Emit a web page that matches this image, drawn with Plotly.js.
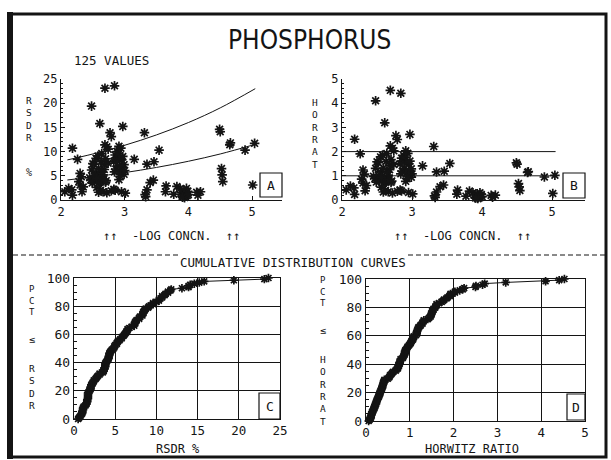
<!DOCTYPE html>
<html>
<head>
<meta charset="utf-8">
<script src="https://cdn.plot.ly/plotly-3.0.1.min.js"></script>
<style>
  html, body { margin: 0; padding: 0; background: #fff; }
  #chart { width: 611px; height: 460px; }
</style>
</head>
<body>
<div id="chart"></div>
<script>
// Collaborative-study results for phosphorus: 125 laboratory values.
// -log10 of the concentration (mass fraction)
const logConc = [
  2.06, 2.12, 2.17, 2.18, 2.18, 2.26, 2.30, 2.32, 2.30, 2.33, 2.35, 2.28,
  2.48, 2.61, 2.69, 2.84, 2.77, 2.79, 2.97, 2.69, 2.72, 2.64, 2.74,
  2.50, 2.52, 2.55, 2.58, 2.48, 2.55, 2.58, 2.60, 2.62, 2.63, 2.65, 2.66, 2.68,
  2.70, 2.57, 2.53, 2.50, 2.47, 2.45, 2.60, 2.62, 2.66, 2.72, 2.56, 2.64, 2.68,
  2.59, 2.54, 2.61, 2.67, 2.49, 2.71, 2.74,
  2.85, 2.87, 2.88, 2.90, 2.92, 2.94, 2.95, 2.97, 2.89, 2.86, 2.92, 2.99, 2.84,
  2.91, 2.96, 3.00, 2.83, 2.99,
  2.83, 2.85, 2.91, 2.95, 3.01, 2.79,
  3.15, 3.31, 3.35, 3.46, 3.54, 3.45, 3.40, 3.35, 3.33, 3.32, 3.65, 3.64, 3.77, 3.82,
  3.87, 3.89, 3.90, 3.92, 3.93, 3.94, 3.95, 3.96, 3.97, 3.98, 3.99, 3.91, 4.00,
  4.13, 4.19, 4.15,
  4.49, 4.50, 4.52, 4.54, 4.53, 4.66, 4.65, 4.89, 5.04, 5.01,
  2.63, 2.56, 2.93, 2.70, 2.59
];
// Reproducibility relative standard deviation, %
const rsdr = [
  1.7, 2.4, 2.1, 1.0, 10.7, 8.4, 5.5, 4.8, 3.1, 1.7, 2.7, 3.8,
  19.4, 15.8, 23.1, 23.6, 13.9, 13.1, 15.2, 11.4, 11.0, 9.6, 10.5,
  7.5, 7.4, 8.6, 9.1, 6.2, 5.6, 4.9, 4.4, 3.9, 3.7, 4.2, 5.2, 6.3,
  3.7, 4.3, 3.8, 4.3, 4.2, 4.6, 3.6, 2.0, 1.7, 1.5, 2.6, 5.8, 7.3,
  6.5, 5.0, 3.8, 4.3, 3.5, 4.0, 7.6,
  9.3, 8.7, 10.0, 9.6, 8.3, 10.7, 8.3, 9.0, 7.0, 6.4, 6.0, 5.3, 5.8,
  11.1, 6.7, 6.1, 8.0, 7.3,
  2.2, 2.0, 4.2, 1.7, 1.4, 1.9,
  8.4, 13.9, 7.4, 7.9, 10.3, 4.1, 3.6, 2.1, 0.7, 1.1, 2.9, 1.7, 1.2, 2.8,
  2.3, 1.6, 0.8, 1.1, 2.0, 0.5, 1.0, 1.5, 2.4, 0.9, 1.8, 0.6, 1.1,
  1.6, 1.7, 1.0,
  14.6, 14.1, 6.5, 3.8, 5.2, 11.8, 11.4, 10.3, 11.7, 3.1,
  7.9, 4.5, 4.9, 8.5, 1.6
];
// HORRAT (Horwitz ratio)
const horrat = [
  0.42, 0.58, 0.50, 0.23, 2.51, 1.91, 1.24, 1.07, 0.70, 0.38, 0.60, 0.86,
  4.10, 3.19, 4.53, 4.41, 2.66, 2.50, 2.71, 2.24, 2.14, 1.92, 2.03,
  1.58, 1.54, 1.78, 1.86, 1.31, 1.16, 1.00, 0.89, 0.79, 0.74, 0.84, 1.03, 1.25,
  0.73, 0.88, 0.79, 0.90, 0.89, 0.98, 0.73, 0.40, 0.34, 0.29, 0.53, 1.16, 1.44,
  1.32, 1.04, 0.77, 0.85, 0.74, 0.78, 1.47,
  1.73, 1.61, 1.84, 1.76, 1.51, 1.93, 1.49, 1.61, 1.29, 1.19, 1.09, 0.94, 1.08,
  2.03, 1.20, 1.08, 1.50, 1.29,
  0.41, 0.37, 0.77, 0.31, 0.25, 0.36,
  1.41, 2.21, 1.16, 1.19, 1.51, 0.62, 0.55, 0.33, 0.11, 0.17, 0.41, 0.24, 0.16, 0.37,
  0.30, 0.21, 0.10, 0.14, 0.26, 0.06, 0.13, 0.19, 0.30, 0.11, 0.23, 0.08, 0.14,
  0.19, 0.20, 0.12,
  1.54, 1.48, 0.68, 0.39, 0.54, 1.17, 1.14, 0.95, 1.02, 0.27,
  1.59, 0.93, 0.89, 1.67, 0.33
];

// Horwitz curve and twice the Horwitz curve (predicted RSDR, %)
const curveLogConc = [2.1, 2.5, 3.0, 3.5, 4.0, 4.5, 5.05];
const horwitzRsdr = [4.14, 4.76, 5.66, 6.73, 8.0, 9.51, 11.5];
const twiceHorwitzRsdr = [8.28, 9.51, 11.31, 13.45, 16.0, 19.03, 23.0];
// HORRAT acceptance lines
const limitLogConc = [2, 5.05];
const horratLimits = [1, 2];

const titleText = 'PHOSPHORUS';
const countText = '125 VALUES';
const concAxisText = '\u2191\u2191  -LOG CONCN.  \u2191\u2191';
const sectionText = 'CUMULATIVE DISTRIBUTION CURVES';
const rsdrTicks = [0, 5, 10, 15, 20, 25];
const horratTicks = [0, 1, 2, 3, 4, 5];
const concTicks = [2, 3, 4, 5];
const pctTicks = [0, 20, 40, 60, 80, 100];

const W = 611, H = 460;
const px = v => v / W;
const py = v => 1 - v / H;
const INK = '#141414';
const MONO = 'DejaVu Sans Mono, monospace';

function cumulative(values) {
  const s = values.slice().sort((a, b) => a - b);
  const n = s.length;
  return { x: s, y: s.map((v, i) => i / (n - 1) * 100) };
}
const cdfRsdr = cumulative(rsdr);
const cdfHorrat = cumulative(horrat);

const star = { symbol: 'asterisk-open', size: 8, color: INK, line: { width: 1.7, color: INK } };

const traces = [
  { x: logConc, y: rsdr, xaxis: 'x', yaxis: 'y', type: 'scatter', mode: 'markers', marker: star, cliponaxis: false },
  { x: curveLogConc, y: horwitzRsdr, xaxis: 'x', yaxis: 'y', type: 'scatter', mode: 'lines', line: { color: INK, width: 1, shape: 'spline' } },
  { x: curveLogConc, y: twiceHorwitzRsdr, xaxis: 'x', yaxis: 'y', type: 'scatter', mode: 'lines', line: { color: INK, width: 1, shape: 'spline' } },
  { x: logConc, y: horrat, xaxis: 'x2', yaxis: 'y2', type: 'scatter', mode: 'markers', marker: star, cliponaxis: false },
  { x: limitLogConc, y: [horratLimits[0], horratLimits[0]], xaxis: 'x2', yaxis: 'y2', type: 'scatter', mode: 'lines', line: { color: INK, width: 1 } },
  { x: limitLogConc, y: [horratLimits[1], horratLimits[1]], xaxis: 'x2', yaxis: 'y2', type: 'scatter', mode: 'lines', line: { color: INK, width: 1 } },
  { x: cdfRsdr.x, y: cdfRsdr.y, xaxis: 'x3', yaxis: 'y3', type: 'scatter', mode: 'lines+markers', line: { color: INK, width: 1 }, marker: Object.assign({}, star, { size: 7 }), cliponaxis: false },
  { x: cdfHorrat.x, y: cdfHorrat.y, xaxis: 'x4', yaxis: 'y4', type: 'scatter', mode: 'lines+markers', line: { color: INK, width: 1 }, marker: Object.assign({}, star, { size: 7 }), cliponaxis: false }
];

function axis(extra) {
  return Object.assign({
    showline: true, linecolor: INK, linewidth: 1.2,
    ticks: 'inside', ticklen: 4, tickcolor: INK, tickwidth: 1,
    showgrid: false, zeroline: false, fixedrange: true,
    tickfont: { family: MONO, size: 12, color: INK }
  }, extra);
}

const layout = {
  width: W, height: H,
  margin: { l: 0, r: 0, t: 0, b: 0 },
  paper_bgcolor: '#fff', plot_bgcolor: 'rgba(0,0,0,0)',
  showlegend: false,
  xaxis: axis({ domain: [px(61), px(282)], range: [2, 5.47], tickvals: concTicks, anchor: 'y' }),
  yaxis: axis({ domain: [py(200), py(79)], range: [0, 25], tickvals: rsdrTicks, anchor: 'x',
                minor: { dtick: 1, ticks: 'inside', ticklen: 2, tickcolor: INK } }),
  xaxis2: axis({ domain: [px(342), px(585)], range: [2, 5.47], tickvals: concTicks, anchor: 'y2' }),
  yaxis2: axis({ domain: [py(200), py(79)], range: [0, 5], tickvals: horratTicks, anchor: 'x2',
                 minor: { dtick: 0.2, ticks: 'inside', ticklen: 2, tickcolor: INK } }),
  xaxis3: axis({ domain: [px(74), px(280)], range: [0, 25], dtick: 5, anchor: 'y3', mirror: true,
                 showgrid: true, gridcolor: INK, gridwidth: 1, tickfont: { family: MONO, size: 12.5, color: INK } }),
  yaxis3: axis({ domain: [py(419), py(278)], range: [0, 100], tickvals: pctTicks, anchor: 'x3', mirror: true,
                 showgrid: true, gridcolor: INK, gridwidth: 1, tickfont: { family: MONO, size: 13, color: INK },
                 minor: { dtick: 5, ticks: 'inside', ticklen: 3, tickcolor: INK } }),
  xaxis4: axis({ domain: [px(366), px(585)], range: [0, 5], dtick: 1, anchor: 'y4', mirror: true,
                 showgrid: true, gridcolor: INK, gridwidth: 1, tickfont: { family: MONO, size: 12.5, color: INK } }),
  yaxis4: axis({ domain: [py(421), py(279)], range: [0, 100], tickvals: pctTicks, anchor: 'x4', mirror: true,
                 showgrid: true, gridcolor: INK, gridwidth: 1, tickfont: { family: MONO, size: 13, color: INK },
                 minor: { dtick: 5, ticks: 'inside', ticklen: 3, tickcolor: INK } }),
  shapes: [],
  annotations: []
};

// page frame, section divider and the lettered panel boxes
const paperLine = (x0, y0, x1, y1, w, dash) => ({ type: 'line', xref: 'paper', yref: 'paper',
  x0: px(x0), y0: py(y0), x1: px(x1), y1: py(y1), line: { color: INK, width: w, dash: dash || 'solid' } });
const paperRect = (x0, y0, x1, y1, w) => ({ type: 'rect', xref: 'paper', yref: 'paper',
  x0: px(x0), y0: py(y0), x1: px(x1), y1: py(y1), line: { color: INK, width: w } });

layout.shapes.push(paperRect(10, 14, 606, 457, 3));
layout.shapes.push(paperLine(10, 12, 10, 459, 6));
layout.shapes.push(paperLine(13, 255, 178, 255, 1, '5px,3px'));
layout.shapes.push(paperLine(408, 255, 605, 255, 1, '5px,3px'));
const boxes = [
  ['A', 260, 173, 282, 197], ['B', 563, 173, 585, 198],
  ['C', 259, 393, 280, 419], ['D', 567, 394, 585, 420]
];
boxes.forEach(b => layout.shapes.push(paperRect(b[1], b[2], b[3], b[4], 1.2)));

function label(text, x, y, size, family) {
  return { text: text, xref: 'paper', yref: 'paper', x: px(x), y: py(y), showarrow: false,
           xanchor: 'center', yanchor: 'middle', borderpad: 0,
           font: { family: family || MONO, size: size, color: INK } };
}
// upright letters stacked one above another, as one block of text
const stacked = (word, x, yMid, size) => label(word.split('').join('<br>'), x, yMid, size);

const A = layout.annotations;
A.push(label(titleText, 309, 40, 26, 'Liberation Sans Narrow, DejaVu Sans Condensed, sans-serif'));
A.push(label(countText, 111, 60, 12.5));
A.push(label(concAxisText, 171, 236, 12));
A.push(label(concAxisText, 462, 236, 12));
A.push(label(sectionText, 293, 262, 12.5));
A.push(label('RSDR %', 178, 449, 12));
A.push(label('HORWITZ RATIO', 472, 449, 12));
boxes.forEach(b => A.push(label(b[0], (b[1] + b[3]) / 2, (b[2] + b[4]) / 2, 13)));

A.push(stacked('RSDR', 29, 119, 9.5));
A.push(label('%', 29, 173, 10));
A.push(stacked('HORRAT', 315, 133, 9.5));
A.push(stacked('PCT', 32, 300, 9));
A.push(label('\u2264', 32, 339, 10));
A.push(stacked('RSDR', 32, 387, 9.5));
A.push(stacked('PCT', 323, 291, 9));
A.push(label('\u2264', 323, 330, 10));
A.push(stacked('HORRAT', 323, 390, 9.5));

Plotly.newPlot('chart', traces, layout, { staticPlot: true, displayModeBar: false });
</script>
</body>
</html>
